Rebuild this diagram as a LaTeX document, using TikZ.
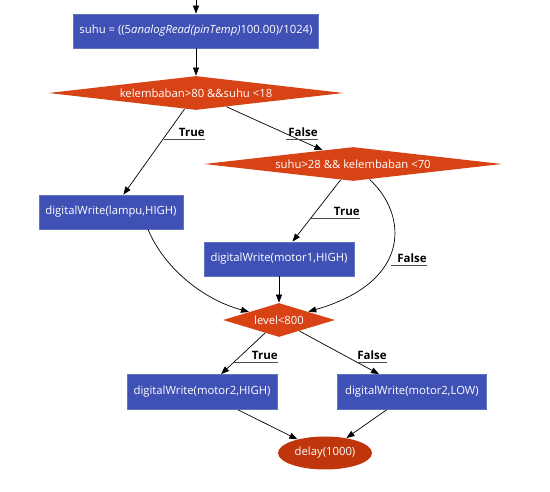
\documentclass[tikz,border=0pt]{standalone}
\usepackage{fontspec}
\setmainfont{Open Sans}
\usetikzlibrary{shapes.geometric,arrows.meta}

\definecolor{boxblue}{HTML}{3F51B5}
\definecolor{boxedge}{HTML}{6573C3}
\definecolor{cekorange}{HTML}{D84315}
\definecolor{akhirred}{HTML}{BF360C}

\tikzset{
  proses/.style={rectangle, fill=boxblue, draw=boxedge, text=white,
    minimum height=34pt, inner sep=0pt},
  cabang/.style={diamond, fill=cekorange, text=white, aspect=8,
    minimum height=34pt, inner sep=0pt},
  akhir/.style={ellipse, fill=akhirred, text=white, inner sep=0pt,
    minimum width=94pt, minimum height=33pt},
  lbl/.style={text width=#1, align=right, inner xsep=0pt, inner ysep=2pt,
    anchor=south east, font=\fontsize{11.5}{13}\selectfont\bfseries,
    append after command={(\tikzlastnode.south west) edge[draw=black!70]
      (\tikzlastnode.south east)}}
}

\begin{document}
\begin{tikzpicture}[x=1pt, y=-1pt, font=\fontsize{11.3}{13}\selectfont,
    >={Triangle[length=8pt, width=6pt]}, line width=0.7pt]
    \useasboundingbox (0, 0) rectangle (550, 492);
    % nodes
    \coordinate (mulai) at (196, 0);
    \node [proses, minimum width=245pt] (suhu) at (196, 31)
      {suhu = ((5\textit{analogRead(pinTemp)}100.00)/1024)};
    \node [cabang, minimum width=295pt] (cek1) at (196, 93)
      {kelembaban>80 \&\&suhu <18};
    \node [cabang, minimum width=298pt] (cek2) at (353, 164)
      {suhu>28 \&\& kelembaban <70};
    \node [proses, minimum width=144pt] (lampu) at (111, 212)
      {digitalWrite(lampu,HIGH)};
    \node [proses, minimum width=150pt] (motor1) at (279, 259)
      {digitalWrite(motor1,HIGH)};
    \node [cabang, minimum width=112pt, aspect=3] (level) at (279, 320)
      {level<800};
    \node [proses, minimum width=150pt, minimum height=35pt] (motorHigh) at (202, 392)
      {digitalWrite(motor2,HIGH)};
    \node [proses, minimum width=149pt, minimum height=35pt] (motorLow) at (412, 392)
      {digitalWrite(motor2,LOW)};
    \node [akhir] (tunda) at (325, 453) {delay(1000)};
    % edges
    \draw [->] (mulai) -- (suhu);
    \draw [->] (suhu) -- (cek1);
    \draw [->] (cek1) -- (lampu);
    \draw [->] (cek1) -- (cek2);
    \draw [->] (cek2) -- (motor1);
    \draw [->] (cek2) .. controls (408, 215) and (412, 282) .. (level);
    \draw [->] ([xshift=37pt]lampu.south) .. controls (165, 270) and (205, 300) .. (level);
    \draw [->] (motor1) -- (level);
    \draw [->] (level) -- (motorHigh);
    \draw [->] (level) -- (motorLow);
    \draw [->] (motorHigh) -- (tunda);
    \draw [->] (motorLow) -- (tunda);
    % labels
    \node [lbl=40pt] (ya1) at (205, 139) {True};
    \node [lbl=31pt] (tidak1) at (318, 139) {False};
    \node [lbl=48pt] (ya2) at (360, 218) {True};
    \node [lbl=35pt] (tidak2) at (427, 265) {False};
    \node [lbl=43pt] (ya3) at (278, 362) {True};
    \node [lbl=30pt] (tidak3) at (387, 362) {False};
\end{tikzpicture}
\end{document}
